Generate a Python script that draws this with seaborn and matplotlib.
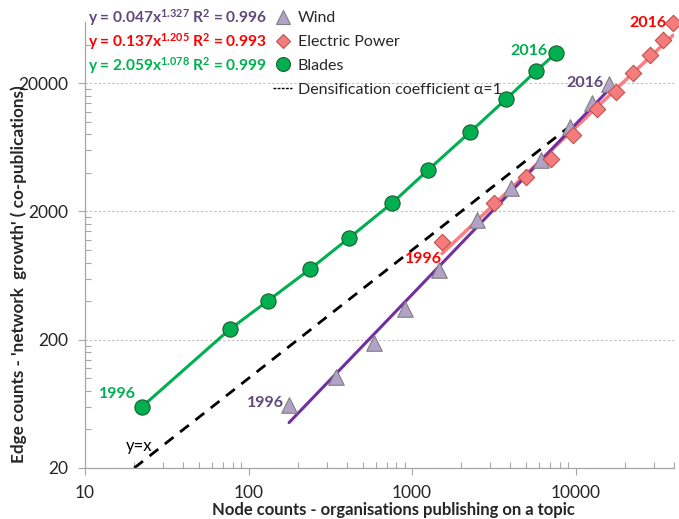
import matplotlib
matplotlib.use("Agg")
import matplotlib.pyplot as plt
import matplotlib.ticker as mticker
from matplotlib.lines import Line2D
import pandas as pd
import seaborn as sns


YEARS = [1996, 1998, 2000, 2002, 2004, 2006, 2008, 2010, 2012, 2014, 2016]

BLADES_NODES = [22.3, 77, 131, 238, 412, 755, 1253, 2265, 3758, 5728, 7600]
BLADES_EDGES = [60, 242, 401, 711, 1242, 2324, 4207, 8318, 15030, 24830, 34350]

WIND_NODES = [177, 343, 586, 906, 1462, 2500, 4036, 6150, 9250, 12620, 16030]
WIND_EDGES = [62, 102, 188, 347, 698, 1714, 3038, 5032, 9090, 14000, 19680]

POWER_NODES = [1525, 3177, 4977, 7080, 9660, 13520, 17700, 22500, 28600, 34300, 39500]
POWER_EDGES = [1153, 2324, 3707, 5120, 7890, 12560, 17060, 23990, 33100, 43350, 58700]

# power-law trendlines shown in the chart: y = a * x^b, R^2
WIND_FIT = (0.047, 1.327, 0.996)
POWER_FIT = (0.137, 1.205, 0.993)
BLADES_FIT = (2.059, 1.078, 0.999)

# y = x reference line (densification coefficient 1)
DIAG_RANGE = [20, 10000]

X_TICKS = [10, 100, 1000, 10000]
Y_TICKS = [20, 200, 2000, 20000]

PURPLE_TXT = "#5F497A"
PURPLE_LINE = "#7030A0"
RED = "#FF0000"
SALMON = "#FF7C80"
GREEN = "#00B050"


def fit_line(nodes, fit):
    a, b, _ = fit
    xs = [nodes[0], nodes[-1]]
    return pd.DataFrame({"x": xs, "y": [a * x ** b for x in xs]})


def main() -> None:
    sns.set_theme(style="white")
    plt.rcParams["font.family"] = ["Lato", "DejaVu Sans"]
    plt.rcParams["mathtext.default"] = "regular"

    blades = pd.DataFrame({"x": BLADES_NODES, "y": BLADES_EDGES, "year": YEARS})
    wind = pd.DataFrame({"x": WIND_NODES, "y": WIND_EDGES, "year": YEARS})
    power = pd.DataFrame({"x": POWER_NODES, "y": POWER_EDGES, "year": YEARS})
    diag = pd.DataFrame({"x": DIAG_RANGE, "y": DIAG_RANGE})

    W, H = 679, 519
    fig = plt.figure(figsize=(W / 100, H / 100), dpi=100)
    ax = fig.add_axes([85 / W, 1 - 468 / H, 589 / W, 446 / H])

    # lines
    sns.lineplot(data=blades, x="x", y="y", sort=False, color=GREEN, lw=2.2, ax=ax, zorder=2)
    sns.lineplot(data=diag, x="x", y="y", color="black", lw=2, ax=ax, zorder=2,
                 dashes=False, linestyle=(0, (4, 3)))
    sns.lineplot(data=fit_line(POWER_NODES, POWER_FIT), x="x", y="y", color=SALMON, lw=2.5, ax=ax, zorder=2)
    sns.lineplot(data=fit_line(WIND_NODES, WIND_FIT), x="x", y="y", color=PURPLE_LINE, lw=2.2, ax=ax, zorder=2)

    # markers
    sns.scatterplot(data=wind, x="x", y="y", marker="^", s=125, color="#B3A2C7",
                    edgecolor="#7F7F7F", linewidth=0.8, ax=ax, zorder=3, clip_on=False)
    sns.scatterplot(data=power, x="x", y="y", marker="D", s=70, color="#F47C7C",
                    edgecolor="#C0504D", linewidth=0.8, ax=ax, zorder=4, clip_on=False)
    sns.scatterplot(data=blades, x="x", y="y", marker="o", s=120, color=GREEN,
                    edgecolor="#1E5E2E", linewidth=0.8, ax=ax, zorder=4, clip_on=False)

    ax.set_xscale("log")
    ax.set_yscale("log")
    ax.set_xlim(10, 40000)
    ax.set_ylim(20, 60000)

    ax.xaxis.set_major_locator(mticker.FixedLocator(X_TICKS))
    ax.xaxis.set_major_formatter(mticker.FixedFormatter([str(t) for t in X_TICKS]))
    ax.xaxis.set_minor_locator(mticker.LogLocator(base=10, subs=range(2, 10)))
    ax.xaxis.set_minor_formatter(mticker.NullFormatter())
    y_minor = [t * k for t in Y_TICKS for k in range(2, 10) if t * k < 60000]
    ax.yaxis.set_major_locator(mticker.FixedLocator(Y_TICKS))
    ax.yaxis.set_major_formatter(mticker.FixedFormatter([str(t) for t in Y_TICKS]))
    ax.yaxis.set_minor_locator(mticker.FixedLocator(y_minor))
    ax.yaxis.set_minor_formatter(mticker.NullFormatter())

    ax.tick_params(which="major", direction="out", length=5, width=0.8, color="#A6A6A6",
                   labelsize=12.5, pad=7, bottom=True, left=True)
    ax.tick_params(which="minor", direction="in", length=4, width=0.8, color="#A6A6A6",
                   bottom=True, left=True)
    ax.grid(axis="y", which="major", linestyle=(0, (2, 2)), color="#BFBFBF", lw=0.8)
    ax.grid(axis="x", visible=False)
    for side in ("top", "right"):
        ax.spines[side].set_visible(False)
    for side in ("left", "bottom"):
        ax.spines[side].set_color("#A6A6A6")
        ax.spines[side].set_linewidth(0.9)

    ax.set_xlabel("Node counts - organisations publishing on a topic", fontsize=12,
                  fontweight="bold")
    ax.set_ylabel("Edge counts - 'network  growth' ( co-publications)", fontsize=12.3,
                  fontweight="bold")
    ax.xaxis.set_label_coords((393 - 85) / 589, -(502 - 468) / 446)
    ax.yaxis.set_label_coords(-(85 - 27) / 589, (468 - 274) / 446)

    # year labels
    lab = dict(fontsize=11.5, fontweight="bold", textcoords="offset points", va="center", ha="right")
    ax.annotate(str(YEARS[0]), (BLADES_NODES[0], BLADES_EDGES[0]), xytext=(-4, 9), color=GREEN, **lab)
    ax.annotate(str(YEARS[-1]), (BLADES_NODES[-1], BLADES_EDGES[-1]), xytext=(-6, 1.5), color=GREEN, **lab)
    ax.annotate(str(YEARS[0]), (WIND_NODES[0], WIND_EDGES[0]), xytext=(-4, 1.5), color=PURPLE_TXT, **lab)
    ax.annotate(str(YEARS[-1]), (WIND_NODES[-1], WIND_EDGES[-1]), xytext=(-4, 1), color=PURPLE_TXT, **lab)
    ax.annotate(str(YEARS[0]), (POWER_NODES[0], POWER_EDGES[0]), xytext=(0, -12), color=RED, **lab)
    ax.annotate(str(YEARS[-1]), (POWER_NODES[-1], POWER_EDGES[-1]), xytext=(-5, 0), color=RED, **lab)
    ax.annotate("y=x", (DIAG_RANGE[0], DIAG_RANGE[0]), xytext=(-6, 16), textcoords="offset points",
                fontsize=12, color="black", ha="left", va="center")

    # fit equations
    for fit, color, ypx in [(WIND_FIT, PURPLE_TXT, 18), (POWER_FIT, RED, 42), (BLADES_FIT, GREEN, 66)]:
        a, b, r2 = fit
        fig.text(88 / W, 1 - ypx / H, f"y = {a:.3f}x$^{{{b:.3f}}}$ R$^{{2}}$ = {r2:.3f}",
                 fontsize=11.2, fontweight="bold", color=color, ha="left", va="center")

    handles = [
        Line2D([], [], ls="none", marker="^", ms=10, mfc="#B3A2C7", mec="#7F7F7F", mew=0.8),
        Line2D([], [], ls="none", marker="D", ms=7.5, mfc="#F47C7C", mec="#C0504D", mew=0.8),
        Line2D([], [], ls="none", marker="o", ms=10, mfc=GREEN, mec="#1E5E2E", mew=0.8),
        Line2D([], [], color="black", lw=1, ls=(0, (2, 1))),
    ]
    labels = ["Wind", "Electric Power", "Blades", "Densification coefficient \u03b1=1"]
    fig.legend(handles, labels, loc="upper left", bbox_to_anchor=(270 / W, 1 - 8 / H),
               frameon=False, fontsize=11.5, handlelength=1.2, handletextpad=0.35,
               labelspacing=0.6, borderpad=0.2, borderaxespad=0)

    fig.savefig("out.png", dpi=100)


if __name__ == "__main__":
    main()
